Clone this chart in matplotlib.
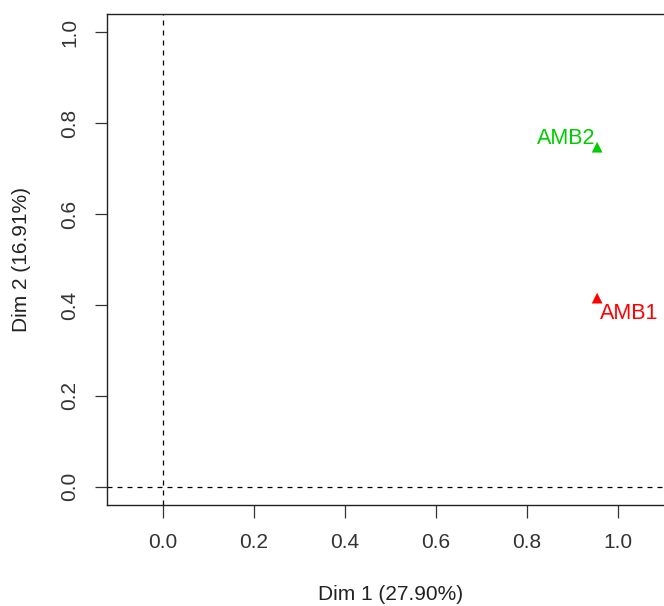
import numpy as np
import matplotlib.pyplot as plt

plt.rcParams.update({'font.family': ['Liberation Sans', 'DejaVu Sans']})
plt.rcParams.update({'font.size': 15})

#%% data
names = ['AMB1', 'AMB2']
dim1 = [0.954, 0.954]
dim2 = [0.415, 0.747]
cols = ['#FF0000', '#00CD00']
xlab = 'Dim 1 (27.90%)'
ylab = 'Dim 2 (16.91%)'
ticks = [0.0, 0.2, 0.4, 0.6, 0.8, 1.0]

#%% plot
fig = plt.figure(figsize=(6.64, 6.06), dpi=100)
ax = fig.add_axes([0.1611, 0.1667, 0.8554, 0.8102])

ax.axhline(0, color='black', lw=0.9, ls=(0, (4, 4)))
ax.axvline(0, color='black', lw=0.9, ls=(0, (4, 4)))

ax.scatter(dim1, dim2, c=cols, marker='^', s=60, zorder=3, linewidths=0)

# labels beside the points
ax.annotate(names[0], (dim1[0], dim2[0]), xytext=(2, -11), textcoords='offset points',
            color=cols[0], ha='left', va='center', fontsize=15.5)
ax.annotate(names[1], (dim1[1], dim2[1]), xytext=(-1, 6), textcoords='offset points',
            color=cols[1], ha='right', va='center', fontsize=15.5)

ax.set_xlim((-0.123, 1.125))
ax.set_ylim((-0.04, 1.04))
ax.set_xticks(ticks)
ax.set_yticks(ticks)
ax.set_xticklabels(['%.1f' % v for v in ticks])
ax.set_yticklabels(['%.1f' % v for v in ticks], rotation=90, va='center')
ax.tick_params(length=9, width=0.9, pad=11, color='#333333', labelcolor='#333333')

for s in ax.spines.values():
    s.set_linewidth(1.0)
    s.set_color('#222222')

ax.set_xlabel(xlab, color='#222222', va='center')
ax.xaxis.set_label_coords(0.5, -0.183)
ax.set_ylabel(ylab, color='#222222', va='center')
ax.yaxis.set_label_coords(-0.150, 0.5)

fig.savefig('out.png', dpi=100)
